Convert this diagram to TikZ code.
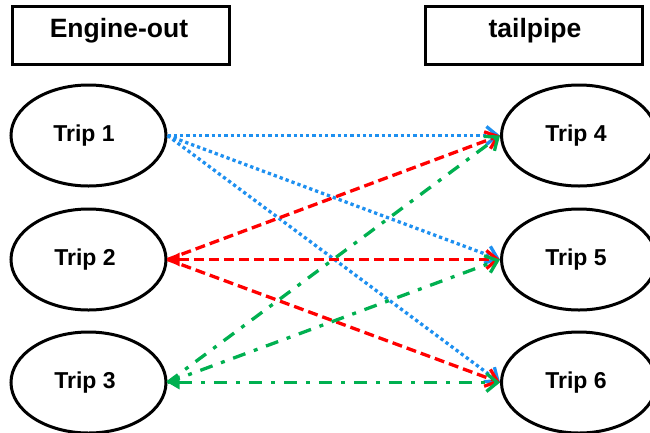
\documentclass[tikz,border=0pt]{standalone}
\usepackage{fontspec}
\setmainfont{Liberation Sans}
\usetikzlibrary{arrows.meta,shapes.geometric}
\definecolor{lblue}{RGB}{30,144,240}
\definecolor{lred}{RGB}{255,0,0}
\definecolor{lgreen}{RGB}{0,176,80}
\begin{document}
\begin{tikzpicture}[x=1pt,y=-1pt,
  hdrbox/.style={draw=black,line width=3pt,minimum width=217pt,minimum height=58pt,inner sep=0pt},
  hdrtxt/.style={font=\fontsize{26.5}{30}\selectfont\bfseries,inner sep=0pt},
  trip/.style={draw=black,line width=3pt,ellipse,minimum width=155pt,minimum height=101pt,inner sep=0pt},
  triptxt/.style={font=\fontsize{23}{27}\selectfont\bfseries,inner sep=0pt},
  conn/.style={line width=3.3pt,line cap=butt},
  bluel/.style={conn,draw=lblue,dash pattern=on 3.3pt off 3pt},
  redl/.style={conn,draw=lred,dash pattern=on 10pt off 5pt},
  greenl/.style={conn,draw=lgreen,dash pattern=on 13pt off 9pt on 4pt off 9pt},
  openhead/.style={-{Straight Barb[length=11pt,width=18pt,line width=3.3pt]}},
  bothhead/.style={{Triangle[length=12pt,width=13pt]}-{Straight Barb[length=11pt,width=18pt,line width=3.3pt]}}
]
\useasboundingbox (0,0) rectangle (650,432);
\node[hdrbox] (ebox) at (120.5,35) {};
\node[hdrtxt] (etxt) at (119,31) {Engine-out};
\node[hdrbox] (tbox) at (533.5,35) {};
\node[hdrtxt] (ttxt) at (535,31) {tailpipe};

\node[trip] (t1) at (88.5,135.5) {};
\node[trip] (t2) at (88.5,259.5) {};
\node[trip] (t3) at (88.5,382.5) {};
\node[trip] (t4) at (579,135.5) {};
\node[trip] (t5) at (579,259.5) {};
\node[trip] (t6) at (579,382.5) {};
\node[triptxt] (l1) at (84,136) {Trip 1};
\node[triptxt] (l2) at (85,260) {Trip 2};
\node[triptxt] (l3) at (85,383) {Trip 3};
\node[triptxt] (l4) at (576,136) {Trip 4};
\node[triptxt] (l5) at (576,260) {Trip 5};
\node[triptxt] (l6) at (576,383) {Trip 6};

\draw[bluel,openhead] (t1.east) -- (t4.west);
\draw[bluel,openhead] (t1.east) -- (t5.west);
\draw[bluel,openhead] (t1.east) -- (t6.west);

\draw[redl,openhead] (t2.east) -- (t4.west);
\draw[redl,bothhead] (t2.east) -- (t5.west);
\draw[redl,openhead] (t2.east) -- (t6.west);

\draw[greenl,openhead] (t3.east) -- (t4.west);
\draw[greenl,openhead] (t3.east) -- (t5.west);
\draw[greenl,bothhead] (t3.east) -- (t6.west);
\end{tikzpicture}
\end{document}
